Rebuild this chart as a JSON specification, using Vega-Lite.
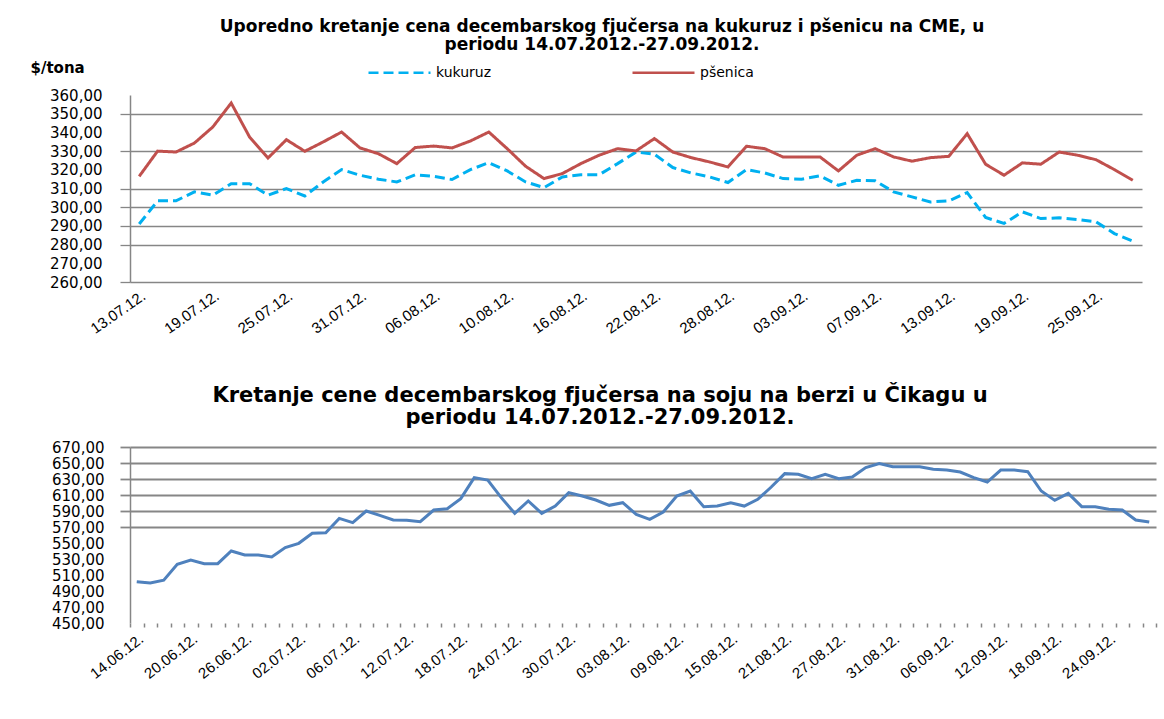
{
  "$schema": "https://vega.github.io/schema/vega-lite/v6.json",
  "background": "white",
  "padding": {"left": 30, "top": 18, "right": 5, "bottom": 5},
  "spacing": 48,
  "config": {"view": {"stroke": null}},
  "datasets": {
    "top": [
      {"d": "13.07.12.", "kukuruz": 291.0, "pšenica": 316.5},
      {"d": "16.07.12.", "kukuruz": 303.4, "pšenica": 330.0},
      {"d": "17.07.12.", "kukuruz": 303.4, "pšenica": 329.5},
      {"d": "18.07.12.", "kukuruz": 308.2, "pšenica": 334.3},
      {"d": "19.07.12.", "kukuruz": 306.4, "pšenica": 342.9},
      {"d": "20.07.12.", "kukuruz": 312.6, "pšenica": 355.7},
      {"d": "23.07.12.", "kukuruz": 312.6, "pšenica": 337.5},
      {"d": "24.07.12.", "kukuruz": 306.4, "pšenica": 326.3},
      {"d": "25.07.12.", "kukuruz": 310.0, "pšenica": 336.1},
      {"d": "26.07.12.", "kukuruz": 306.0, "pšenica": 329.9},
      {"d": "27.07.12.", "kukuruz": 313.5, "pšenica": 334.9},
      {"d": "30.07.12.", "kukuruz": 320.1, "pšenica": 340.2},
      {"d": "31.07.12.", "kukuruz": 317.1, "pšenica": 331.7},
      {"d": "01.08.12.", "kukuruz": 315.0, "pšenica": 328.6},
      {"d": "02.08.12.", "kukuruz": 313.5, "pšenica": 323.3},
      {"d": "03.08.12.", "kukuruz": 317.3, "pšenica": 331.9},
      {"d": "06.08.12.", "kukuruz": 316.5, "pšenica": 332.7},
      {"d": "07.08.12.", "kukuruz": 314.8, "pšenica": 331.7},
      {"d": "08.08.12.", "kukuruz": 320.1, "pšenica": 335.4},
      {"d": "09.08.12.", "kukuruz": 323.8, "pšenica": 340.2},
      {"d": "10.08.12.", "kukuruz": 319.4, "pšenica": 331.3},
      {"d": "13.08.12.", "kukuruz": 313.5, "pšenica": 321.9},
      {"d": "14.08.12.", "kukuruz": 310.5, "pšenica": 315.3},
      {"d": "15.08.12.", "kukuruz": 316.2, "pšenica": 318.0},
      {"d": "16.08.12.", "kukuruz": 317.4, "pšenica": 323.3},
      {"d": "17.08.12.", "kukuruz": 317.4, "pšenica": 327.8},
      {"d": "20.08.12.", "kukuruz": 323.3, "pšenica": 331.3},
      {"d": "21.08.12.", "kukuruz": 329.5, "pšenica": 330.1},
      {"d": "22.08.12.", "kukuruz": 328.3, "pšenica": 336.7},
      {"d": "23.08.12.", "kukuruz": 321.2, "pšenica": 329.5},
      {"d": "24.08.12.", "kukuruz": 318.3, "pšenica": 326.5},
      {"d": "27.08.12.", "kukuruz": 316.2, "pšenica": 324.2},
      {"d": "28.08.12.", "kukuruz": 313.2, "pšenica": 321.5},
      {"d": "29.08.12.", "kukuruz": 320.1, "pšenica": 332.6},
      {"d": "30.08.12.", "kukuruz": 318.3, "pšenica": 331.3},
      {"d": "31.08.12.", "kukuruz": 315.3, "pšenica": 326.8},
      {"d": "03.09.12.", "kukuruz": 315.0, "pšenica": 326.8},
      {"d": "04.09.12.", "kukuruz": 316.8, "pšenica": 326.9},
      {"d": "05.09.12.", "kukuruz": 311.7, "pšenica": 319.4},
      {"d": "06.09.12.", "kukuruz": 314.4, "pšenica": 327.8},
      {"d": "07.09.12.", "kukuruz": 314.1, "pšenica": 331.3},
      {"d": "10.09.12.", "kukuruz": 308.2, "pšenica": 326.9},
      {"d": "11.09.12.", "kukuruz": 305.5, "pšenica": 324.6},
      {"d": "12.09.12.", "kukuruz": 302.8, "pšenica": 326.5},
      {"d": "13.09.12.", "kukuruz": 303.4, "pšenica": 327.2},
      {"d": "14.09.12.", "kukuruz": 307.8, "pšenica": 339.3},
      {"d": "17.09.12.", "kukuruz": 294.5, "pšenica": 323.0},
      {"d": "18.09.12.", "kukuruz": 291.3, "pšenica": 317.1},
      {"d": "19.09.12.", "kukuruz": 297.5, "pšenica": 323.7},
      {"d": "20.09.12.", "kukuruz": 293.9, "pšenica": 323.0},
      {"d": "21.09.12.", "kukuruz": 294.3, "pšenica": 329.5},
      {"d": "24.09.12.", "kukuruz": 293.4, "pšenica": 327.8},
      {"d": "25.09.12.", "kukuruz": 292.2, "pšenica": 325.4},
      {"d": "26.09.12.", "kukuruz": 285.9, "pšenica": 320.1},
      {"d": "27.09.12.", "kukuruz": 281.9, "pšenica": 314.4}
    ],
    "soja": [
      {"d": "14.06.12.", "v": 501.7}, {"d": "15.06.12.", "v": 500.0}, {"d": "18.06.12.", "v": 503.5},
      {"d": "19.06.12.", "v": 523.3}, {"d": "20.06.12.", "v": 528.7}, {"d": "21.06.12.", "v": 524.2},
      {"d": "22.06.12.", "v": 524.2}, {"d": "25.06.12.", "v": 540.0}, {"d": "26.06.12.", "v": 535.0},
      {"d": "27.06.12.", "v": 535.0}, {"d": "28.06.12.", "v": 532.5}, {"d": "29.06.12.", "v": 544.2},
      {"d": "02.07.12.", "v": 549.6}, {"d": "03.07.12.", "v": 562.1}, {"d": "04.07.12.", "v": 562.9},
      {"d": "05.07.12.", "v": 580.8}, {"d": "06.07.12.", "v": 575.4}, {"d": "09.07.12.", "v": 590.0},
      {"d": "10.07.12.", "v": 584.6}, {"d": "11.07.12.", "v": 578.7}, {"d": "12.07.12.", "v": 578.3},
      {"d": "13.07.12.", "v": 576.7}, {"d": "16.07.12.", "v": 591.2}, {"d": "17.07.12.", "v": 592.9},
      {"d": "18.07.12.", "v": 605.4}, {"d": "19.07.12.", "v": 631.7}, {"d": "20.07.12.", "v": 628.7},
      {"d": "23.07.12.", "v": 606.7}, {"d": "24.07.12.", "v": 587.1}, {"d": "25.07.12.", "v": 602.5},
      {"d": "26.07.12.", "v": 587.1}, {"d": "27.07.12.", "v": 596.2}, {"d": "30.07.12.", "v": 612.9},
      {"d": "31.07.12.", "v": 608.7}, {"d": "01.08.12.", "v": 603.7}, {"d": "02.08.12.", "v": 597.1},
      {"d": "03.08.12.", "v": 600.4}, {"d": "06.08.12.", "v": 585.8}, {"d": "07.08.12.", "v": 579.6},
      {"d": "08.08.12.", "v": 588.7}, {"d": "09.08.12.", "v": 608.7}, {"d": "10.08.12.", "v": 615.0},
      {"d": "13.08.12.", "v": 595.4}, {"d": "14.08.12.", "v": 596.2}, {"d": "15.08.12.", "v": 600.4},
      {"d": "16.08.12.", "v": 596.2}, {"d": "17.08.12.", "v": 604.6}, {"d": "20.08.12.", "v": 620.0},
      {"d": "21.08.12.", "v": 636.7}, {"d": "22.08.12.", "v": 635.8}, {"d": "23.08.12.", "v": 630.4},
      {"d": "24.08.12.", "v": 635.8}, {"d": "27.08.12.", "v": 630.4}, {"d": "28.08.12.", "v": 632.5},
      {"d": "29.08.12.", "v": 644.2}, {"d": "30.08.12.", "v": 649.2}, {"d": "31.08.12.", "v": 645.4},
      {"d": "03.09.12.", "v": 645.4}, {"d": "04.09.12.", "v": 645.4}, {"d": "05.09.12.", "v": 642.1},
      {"d": "06.09.12.", "v": 641.2}, {"d": "07.09.12.", "v": 638.7}, {"d": "10.09.12.", "v": 631.7},
      {"d": "11.09.12.", "v": 626.2}, {"d": "12.09.12.", "v": 641.2}, {"d": "13.09.12.", "v": 641.2},
      {"d": "14.09.12.", "v": 639.2}, {"d": "17.09.12.", "v": 615.0}, {"d": "18.09.12.", "v": 603.3},
      {"d": "19.09.12.", "v": 612.1}, {"d": "20.09.12.", "v": 595.4}, {"d": "21.09.12.", "v": 595.4},
      {"d": "24.09.12.", "v": 592.1}, {"d": "25.09.12.", "v": 591.2}, {"d": "26.09.12.", "v": 578.7},
      {"d": "27.09.12.", "v": 576.2}
    ]
  },
  "vconcat": [
    {
      "width": 1012,
      "height": 187,
      "title": {
        "text": ["Uporedno kretanje cena decembarskog fjučersa na kukuruz i pšenicu na CME, u", "periodu 14.07.2012.-27.09.2012."],
        "anchor": "middle", "dx": -34, "font": "DejaVu Sans", "fontSize": 17, "fontWeight": "bold",
        "lineHeight": 18, "offset": 6, "color": "black"
      },
      "data": {"name": "top"},
      "transform": [{"fold": ["kukuruz", "pšenica"], "as": ["serija", "cena"]}],
      "mark": {"type": "line", "strokeWidth": 3},
      "encoding": {
        "x": {
          "field": "d", "type": "ordinal", "sort": null,
          "scale": {"type": "point", "padding": 0.5},
          "axis": {
            "title": null,
            "values": ["13.07.12.", "19.07.12.", "25.07.12.", "31.07.12.", "06.08.12.", "10.08.12.", "16.08.12.", "22.08.12.", "28.08.12.", "03.09.12.", "07.09.12.", "13.09.12.", "19.09.12.", "25.09.12."],
            "labelAngle": -35, "labelAlign": "right", "labelBaseline": "top",
            "labelFont": "Liberation Sans", "labelFontSize": 15, "labelColor": "black",
            "labelPadding": 6, "labelOverlap": false,
            "domain": false, "ticks": false, "grid": false
          }
        },
        "y": {
          "field": "cena", "type": "quantitative",
          "scale": {"domain": [260, 360], "nice": false, "zero": false},
          "axis": {
            "title": "$/tona", "titleAngle": 0, "titleAlign": "left", "titleBaseline": "middle",
            "titleX": -100, "titleY": -28, "titleFont": "DejaVu Sans", "titleFontSize": 15,
            "titleFontWeight": "bold", "titleColor": "black",
            "values": [260, 270, 280, 290, 300, 310, 320, 330, 340, 350, 360],
            "labelExpr": "replace(format(datum.value, '.2f'), '.', ',')",
            "labelFont": "DejaVu Sans", "labelFontSize": 15, "labelColor": "black", "labelPadding": 18,
            "labelOverlap": false,
            "tickSize": 10, "tickColor": "#868686", "tickWidth": 1.3,
            "tickOpacity": {"condition": {"test": "indexof([350,330,310,300,290,280,260], datum.value) >= 0", "value": 1}, "value": 0},
            "gridColor": "#868686", "gridWidth": 1.3,
            "gridOpacity": {"condition": {"test": "indexof([350,330,310,300,290,280,260], datum.value) >= 0", "value": 1}, "value": 0},
            "domainColor": "#868686", "domainWidth": 1.5
          }
        },
        "color": {
          "field": "serija", "type": "nominal",
          "scale": {"domain": ["kukuruz", "pšenica"], "range": ["#00B0F0", "#C0504D"]},
          "legend": {
            "orient": "none", "legendX": 237, "legendY": -55, "direction": "horizontal", "title": null,
            "symbolType": "stroke", "symbolSize": 3844, "symbolStrokeWidth": 2.5,
            "labelFont": "DejaVu Sans", "labelFontSize": 14, "labelColor": "black",
            "columnPadding": 135, "labelOffset": 4
          }
        },
        "strokeDash": {
          "field": "serija", "type": "nominal",
          "scale": {"domain": ["kukuruz", "pšenica"], "range": [[10, 5], [1, 0]]},
          "legend": {
            "orient": "none", "legendX": 237, "legendY": -55, "direction": "horizontal", "title": null,
            "symbolType": "stroke", "symbolSize": 3844, "symbolStrokeWidth": 2.5,
            "labelFont": "DejaVu Sans", "labelFontSize": 14, "labelColor": "black",
            "columnPadding": 135, "labelOffset": 4
          }
        }
      }
    },
    {
      "width": 1026,
      "height": 176,
      "title": {
        "text": ["Kretanje cene decembarskog fjučersa na soju na berzi u Čikagu u", "periodu 14.07.2012.-27.09.2012."],
        "anchor": "middle", "dx": -43, "font": "DejaVu Sans", "fontSize": 21, "fontWeight": "bold",
        "lineHeight": 22, "offset": 12, "color": "black"
      },
      "data": {"name": "soja"},
      "mark": {"type": "line", "strokeWidth": 3, "color": "#4F81BD"},
      "encoding": {
        "x": {
          "field": "d", "type": "ordinal", "sort": null,
          "scale": {"type": "band", "paddingInner": 0, "paddingOuter": 0},
          "bandPosition": 0.5,
          "axis": {
            "title": null,
            "labelExpr": "indexof(['14.06.12.','20.06.12.','26.06.12.','02.07.12.','06.07.12.','12.07.12.','18.07.12.','24.07.12.','30.07.12.','03.08.12.','09.08.12.','15.08.12.','21.08.12.','27.08.12.','31.08.12.','06.09.12.','12.09.12.','18.09.12.','24.09.12.'], datum.value) >= 0 ? datum.value : ''",
            "labelAngle": -38, "labelAlign": "right", "labelBaseline": "top",
            "labelFont": "Liberation Sans", "labelFontSize": 15, "labelColor": "black",
            "labelPadding": 4, "labelOverlap": false,
            "domain": false, "ticks": true, "tickBand": "extent", "tickSize": 4,
            "tickColor": "#868686", "tickWidth": 1.5, "grid": false
          }
        },
        "y": {
          "field": "v", "type": "quantitative",
          "scale": {"domain": [450, 670], "nice": false, "zero": false},
          "axis": {
            "title": null,
            "values": [450, 470, 490, 510, 530, 550, 570, 590, 610, 630, 650, 670],
            "labelExpr": "replace(format(datum.value, '.2f'), '.', ',')",
            "labelFont": "DejaVu Sans", "labelFontSize": 15, "labelColor": "black", "labelPadding": 16,
            "labelOverlap": false,
            "tickSize": 10, "tickColor": "#868686", "tickWidth": 1.8,
            "tickOpacity": {"condition": {"test": "datum.value >= 570", "value": 1}, "value": 0},
            "gridColor": "#868686", "gridWidth": 1.8,
            "gridOpacity": {"condition": {"test": "datum.value >= 570", "value": 1}, "value": 0},
            "domainColor": "#868686", "domainWidth": 1.5
          }
        }
      }
    }
  ]
}
